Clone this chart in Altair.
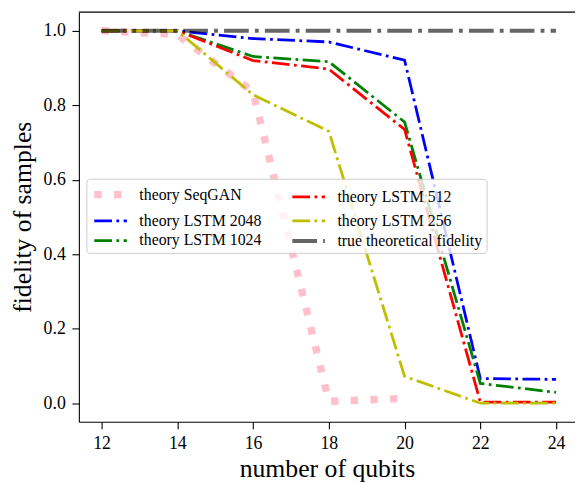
import altair as alt
import pandas as pd

# ---- data ----
qubits = [12, 14, 16, 18, 20, 22, 24]
seqgan_x = [12, 14, 16, 18, 20]
seqgan = [1.0, 0.99, 0.836, 0.005, 0.013]
lstm2048 = [1.0, 1.0, 0.979, 0.970, 0.921, 0.066, 0.064]
lstm1024 = [1.0, 1.0, 0.931, 0.917, 0.755, 0.053, 0.029]
lstm512 = [1.0, 1.0, 0.920, 0.897, 0.735, 0.003, 0.003]
lstm256 = [1.0, 1.0, 0.828, 0.730, 0.072, 0.0, 0.0]
true_fid = [1.0, 1.0, 1.0, 1.0, 1.0, 1.0, 1.0]

series_names = ["theory SeqGAN", "theory LSTM 2048", "theory LSTM 1024",
                "theory LSTM 512", "theory LSTM 256", "true theoretical fidelity"]
colors = ["#ffc0cb", "#0000ff", "#008000", "#ff0000", "#bfbf00", "#000000"]
dash_dot = [17.9, 4.5, 2.8, 4.5]
dashes = [[7.5, 12.4], dash_dot, dash_dot, dash_dot, dash_dot, [25, 6.2, 3.9, 6.2]]
widths = [7.5, 2.8, 2.8, 2.8, 2.8, 3.9]
opacities = [1, 1, 1, 1, 1, 0.6]

rows = []
for xs, ys, name in [(seqgan_x, seqgan, series_names[0]), (qubits, lstm2048, series_names[1]),
                     (qubits, lstm1024, series_names[2]), (qubits, lstm512, series_names[3]),
                     (qubits, lstm256, series_names[4]), (qubits, true_fid, series_names[5])]:
    for i, (x, y) in enumerate(zip(xs, ys)):
        rows.append({"qubits": x, "fidelity": y, "series": name, "idx": i})
df = pd.DataFrame(rows)

FONT = "Liberation Serif"
W, H = 502, 414.5

leg = alt.Legend(orient="none", legendX=7.6, legendY=168.6, columns=2, title=None,
                 symbolType="M-1,0H3.125", symbolSize=256, labelFont=FONT, labelFontSize=16,
                 labelColor="black", labelOffset=25.6, padding=4, rowPadding=2,
                 columnPadding=22.4, strokeColor="#cccccc", fillColor="rgba(255,255,255,0.8)",
                 cornerRadius=3, labelLimit=300)

lines = alt.Chart(df).mark_line(clip=True).encode(
    x=alt.X("qubits:Q", scale=alt.Scale(domain=[11.4, 24.5], nice=False, zero=False),
            axis=alt.Axis(values=qubits, title="number of qubits", titleFont=FONT,
                          titleFontSize=26, titleFontWeight="normal", titleColor="black",
                          titleY=55, titleBaseline="alphabetic", labelFont=FONT,
                          labelFontSize=18, labelColor="black", labelPadding=6,
                          tickSize=7, tickWidth=1.1, tickColor="black", domainColor="black",
                          domainWidth=1.1, grid=False, labelFlush=False)),
    y=alt.Y("fidelity:Q", scale=alt.Scale(domain=[-0.05, 1.05], nice=False, zero=False),
            axis=alt.Axis(values=[0, 0.2, 0.4, 0.6, 0.8, 1.0], format=".1f",
                          title="fidelity of samples", titleFont=FONT, titleFontSize=26,
                          titleFontWeight="normal", titleColor="black", titleAngle=270,
                          titleX=-57, titleY=207, titleBaseline="middle", titleAlign="center",
                          labelFont=FONT, labelFontSize=18, labelColor="black",
                          labelPadding=6.7, tickSize=7, tickWidth=1.1, tickColor="black",
                          domainColor="black", domainWidth=1.1, grid=False, labelFlush=False)),
    color=alt.Color("series:N", scale=alt.Scale(domain=series_names, range=colors),
                    legend=leg),
    strokeDash=alt.StrokeDash("series:N", scale=alt.Scale(type="ordinal", domain=series_names,
                                                          range=dashes),
                              legend=leg),
    strokeWidth=alt.StrokeWidth("series:N", scale=alt.Scale(type="ordinal", domain=series_names,
                                                            range=widths),
                                legend=leg),
    opacity=alt.Opacity("series:N", scale=alt.Scale(type="ordinal", domain=series_names,
                                                    range=opacities),
                        legend=leg),
    order="idx:Q",
)

top_spine = alt.Chart(pd.DataFrame({"a": [0]})).mark_rule(color="black", strokeWidth=1.1).encode(
    x=alt.value(0), x2=alt.value(W), y=alt.value(0))

chart = alt.layer(lines, top_spine).properties(
    width=W, height=H,
    autosize=alt.AutoSizeParams(type="none"),
    padding={"left": 71.7, "top": 1.4, "right": 0, "bottom": 58.1},
).configure_view(stroke=None).configure_axis(
    labelFont=FONT, titleFont=FONT
).configure_legend(labelFont=FONT)

chart.save("out.html", embed_options={"renderer": "svg", "actions": False})
